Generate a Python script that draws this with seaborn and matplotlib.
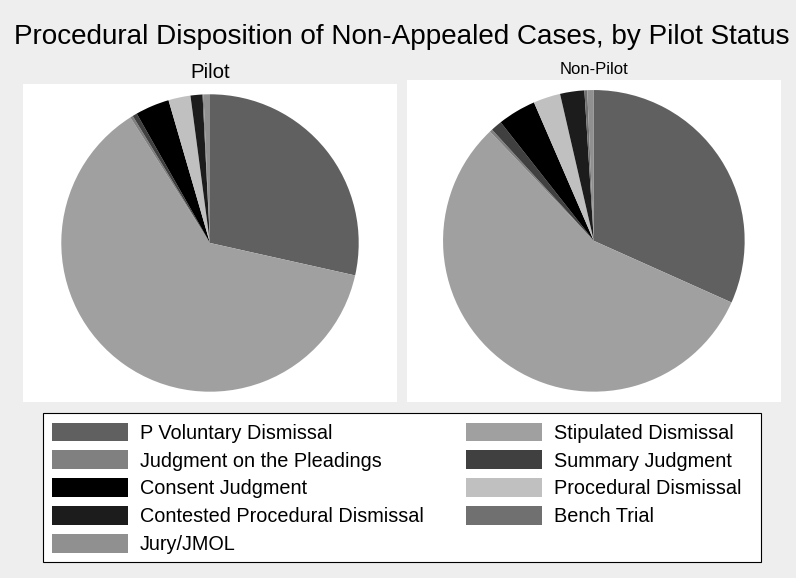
import numpy as np
import seaborn as sns
import matplotlib.pyplot as plt
from matplotlib.patches import Rectangle, Patch

# slice order (clockwise from 12 o'clock)
categories = ['P Voluntary Dismissal', 'Stipulated Dismissal', 'Judgment on the Pleadings',
              'Summary Judgment', 'Consent Judgment', 'Procedural Dismissal',
              'Contested Procedural Dismissal', 'Bench Trial', 'Jury/JMOL']
pilot_share = [28.5, 62.5, 0.3, 0.5, 3.7, 2.4, 1.3, 0.1, 0.7]
nonpilot_share = [31.7, 56.2, 0.3, 1.2, 4.1, 2.9, 2.6, 0.3, 0.7]
panel_titles = ['Pilot', 'Non-Pilot']
colors = ['#606060', '#a0a0a0', '#808080', '#404040', '#000000',
          '#c0c0c0', '#1c1c1c', '#707070', '#909090']
# legend is filled row-wise like Stata: column 1 / column 2
legend_order = [0, 2, 4, 6, 8, 1, 3, 5, 7]

sns.set_theme(style="white")
plt.rcParams['font.family'] = ['Liberation Sans', 'DejaVu Sans']
plt.rcParams['text.color'] = 'black'

W, H = 796, 578
bg = '#eeeeee'
fig = plt.figure(figsize=(W / 100, H / 100), dpi=100, facecolor=bg)


def box(x0, y0, x1, y1):
    return [x0 / W, 1 - y1 / H, (x1 - x0) / W, (y1 - y0) / H]


panels = [
    dict(rect=(22.7, 84.3, 397.3, 401.7), r=148.7, data=pilot_share,
         tx=210, ty=77.7, fs=14.8),
    dict(rect=(406.7, 80.0, 781.0, 401.7), r=150.8, data=nonpilot_share,
         tx=594, ty=74.3, fs=12),
]

for p, title in zip(panels, panel_titles):
    x0, y0, x1, y1 = p['rect']
    ax = fig.add_axes(box(x0, y0, x1, y1))
    ax.pie(p['data'], colors=colors, startangle=90, counterclock=False,
           wedgeprops=dict(linewidth=0), frame=True)
    ax.set_facecolor('white')
    xh = (x1 - x0) / 2 / p['r']
    yh = (y1 - y0) / 2 / p['r']
    ax.set_xlim(-xh, xh)
    ax.set_ylim(-yh, yh)
    ax.set_aspect('auto')
    for s in ax.spines.values():
        s.set_visible(False)
    ax.set_xticks([])
    ax.set_yticks([])
    fig.text(p['tx'] / W, 1 - p['ty'] / H, title, ha='center', va='baseline',
             fontsize=p['fs'], color='black')

fig.text(402 / W, 1 - 44 / H,
         'Procedural Disposition of Non-Appealed Cases, by Pilot Status',
         ha='center', va='baseline', fontsize=20.1, color='black')

# legend frame
fig.patches.append(Rectangle((43 / W, 1 - 562 / H), (761 - 43) / W, (562 - 413) / H,
                             transform=fig.transFigure, facecolor='white',
                             edgecolor='black', linewidth=0.8, zorder=0))

fs = 14.3
fs_px = fs * 100 / 72
handles = [Patch(facecolor=colors[i], edgecolor='none') for i in legend_order]
labels = [categories[i] for i in legend_order]


def make_legend(colspace):
    return fig.legend(handles, labels, ncol=2, loc='upper left',
                      bbox_to_anchor=(52 / W, 1 - 422.5 / H), frameon=False,
                      fontsize=fs, handlelength=76 / fs_px, handleheight=21 / fs_px,
                      handletextpad=12 / fs_px, labelspacing=0.40,
                      columnspacing=colspace, borderpad=0, borderaxespad=0,
                      labelcolor='black')


leg = make_legend(2.0)
fig.canvas.draw()
rend = fig.canvas.get_renderer()
w1 = max(t.get_window_extent(rend).width for t in leg.get_texts()[:5])
leg.remove()
colspace = (466 - (52 + 76 + 12 + w1)) / fs_px
leg = make_legend(colspace)

fig.savefig('out.png', dpi=100, facecolor=bg)
